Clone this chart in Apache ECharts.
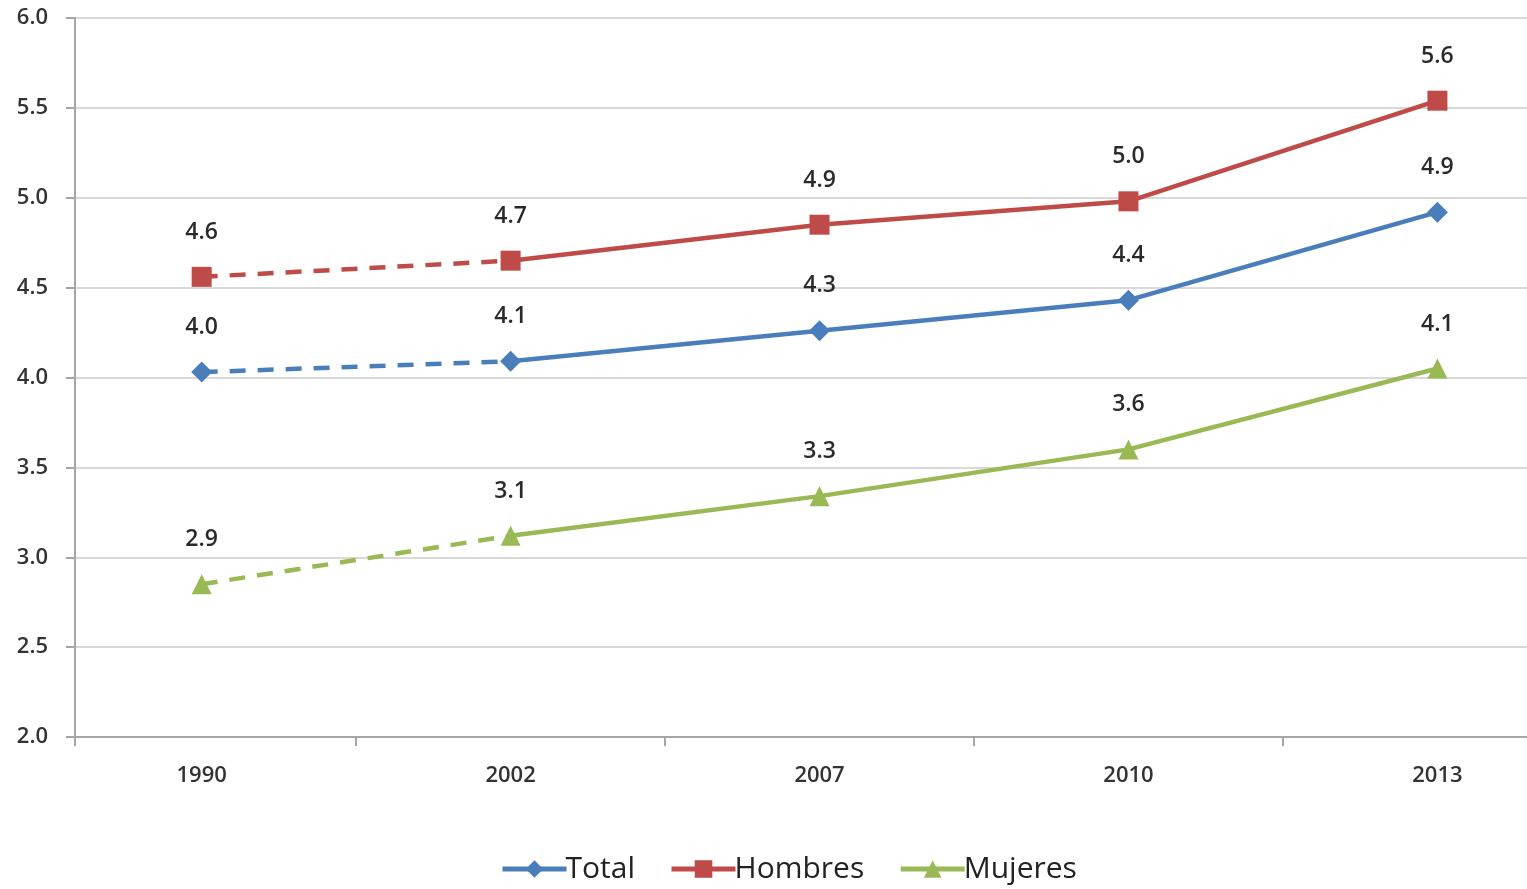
<!DOCTYPE html>
<html>
<head>
<meta charset="utf-8">
<script src="https://cdn.jsdelivr.net/npm/echarts@6/dist/echarts.min.js"></script>
<style>
  html, body { margin: 0; padding: 0; background: #fff; }
  #main { width: 1527px; height: 889px; }
</style>
</head>
<body>
<div id="main"></div>
<script>
// años de la encuesta
var years = ['1990', '2002', '2007', '2010', '2013'];

// valores
var totalVals = [4.03, 4.09, 4.26, 4.43, 4.92];
var hombresVals = [4.56, 4.65, 4.85, 4.98, 5.54];
var mujeresVals = [2.85, 3.12, 3.34, 3.60, 4.05];

// etiquetas tal como aparecen encima de cada punto
var totalLabels = ['4.0', '4.1', '4.3', '4.4', '4.9'];
var hombresLabels = ['4.6', '4.7', '4.9', '5.0', '5.6'];
var mujeresLabels = ['2.9', '3.1', '3.3', '3.6', '4.1'];

var yTicks = ['2.0', '2.5', '3.0', '3.5', '4.0', '4.5', '5.0', '5.5', '6.0'];

var fontName = 'Open Sans';

function mkLabel(texts)
{
    return {
        show: true,
        position: 'top',
        distance: 23,
        fontFamily: fontName,
        fontSize: 23,
        fontWeight: 600,
        color: '#2a2a2a',
        formatter: function (p) { return texts[Math.round(p.value[0])]; }
    };
}

// tramo 1990-2002 punteado, el resto continuo
function buildSeries(name, vals, texts, color, symbol, size)
{
    var dashData = [];
    var solidData = [];
    for (var i = 0; i < vals.length; i++)
    {
        if (i <= 1)
        {
            dashData.push({ value: [i, vals[i]], symbolSize: i == 0 ? size : 0, label: { show: i == 0 } });
        }
        if (i >= 1)
        {
            solidData.push([i, vals[i]]);
        }
    }
    return [
        {
            name: name + ' (est.)',
            type: 'line',
            data: dashData,
            symbol: symbol,
            symbolSize: size,
            itemStyle: { color: color },
            lineStyle: { color: color, width: 4.5, type: [16, 12] },
            label: mkLabel(texts),
            z: 2
        },
        {
            name: name,
            type: 'line',
            data: solidData,
            symbol: symbol,
            symbolSize: size,
            itemStyle: { color: color },
            lineStyle: { color: color, width: 4.5 },
            label: mkLabel(texts),
            z: 3
        }
    ];
}

var myChart = echarts.init(document.getElementById('main'));

var series = []
    .concat(buildSeries('Total', totalVals, totalLabels, '#4a7ebb', 'diamond', 21))
    .concat(buildSeries('Hombres', hombresVals, hombresLabels, '#be4b48', 'rect', 20))
    .concat(buildSeries('Mujeres', mujeresVals, mujeresLabels, '#98b954', 'triangle', 20));

myChart.setOption({
    animation: false,
    backgroundColor: '#fff',
    grid: {
        left: 75,
        right: 0,
        top: 18,
        bottom: 152
    },
    legend: {
        data: ['Total', 'Hombres', 'Mujeres'],
        bottom: 0,
        left: 495,
        itemWidth: 64,
        itemHeight: 22,
        itemGap: 34,
        lineStyle: { width: 5 },
        textStyle: { fontFamily: fontName, fontSize: 30, color: '#222', padding: [0, 0, 0, -6] }
    },
    xAxis: {
        type: 'value',
        min: -0.41,
        max: 4.29,
        splitLine: { show: false },
        axisLine: { show: true, onZero: false, lineStyle: { color: '#a6a6a6', width: 2 } },
        axisTick: {
            show: true,
            length: 9,
            customValues: [-0.41, 0.5, 1.5, 2.5, 3.5],
            lineStyle: { color: '#a6a6a6', width: 2 }
        },
        axisLabel: {
            margin: 28,
            fontFamily: fontName,
            fontSize: 22,
            fontWeight: 600,
            color: '#333',
            customValues: [0, 1, 2, 3, 4],
            formatter: function (v) { return years[Math.round(v)]; }
        }
    },
    yAxis: {
        type: 'value',
        min: 2,
        max: 6,
        interval: 0.5,
        axisLine: { show: true, onZero: false, lineStyle: { color: '#a6a6a6', width: 2 } },
        axisTick: { show: true, length: 9, lineStyle: { color: '#a6a6a6', width: 2 } },
        splitLine: { lineStyle: { color: '#d9d9d9', width: 2 } },
        axisLabel: {
            margin: 27,
            fontFamily: fontName,
            fontSize: 22,
            fontWeight: 600,
            color: '#333',
            formatter: function (v) { return yTicks[Math.round((v - 2) / 0.5)]; }
        }
    },
    series: series
});
</script>
</body>
</html>
